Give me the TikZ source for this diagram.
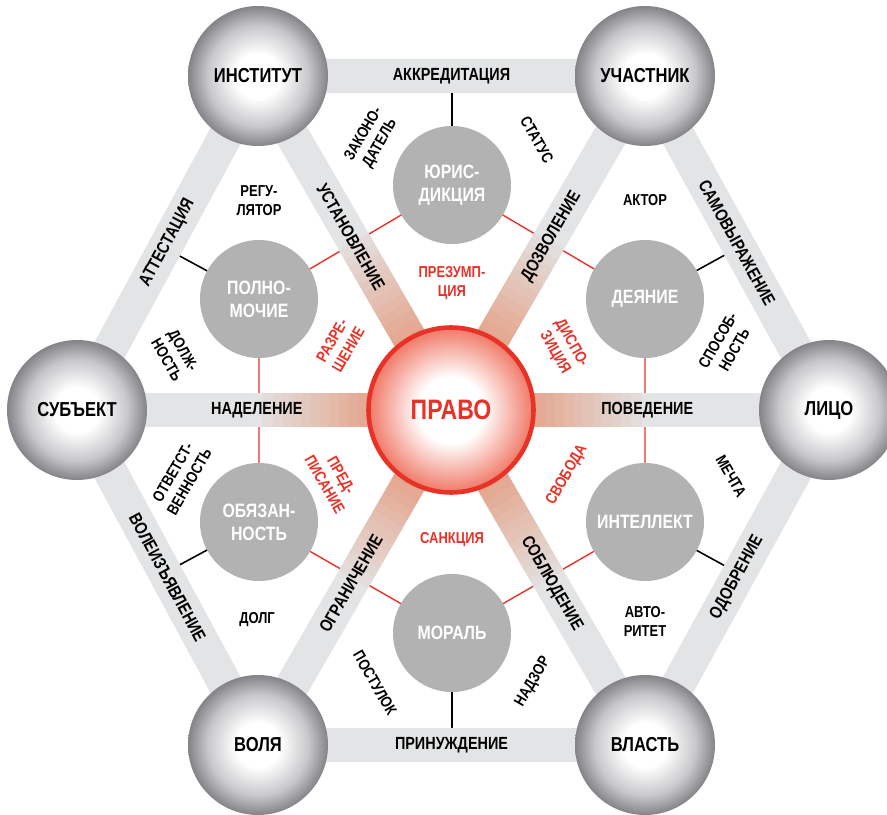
\documentclass[tikz,border=0pt]{standalone}
\usepackage{fontspec}
\newfontfamily\cond{Liberation Sans}[FakeStretch=0.82]
\usetikzlibrary{calc}

\definecolor{bandgray}{RGB}{227,228,229}
\definecolor{innergray}{RGB}{178,178,178}
\definecolor{rim}{RGB}{132,132,136}
\definecolor{midball}{RGB}{200,200,203}
\definecolor{pravored}{RGB}{232,50,40}
\definecolor{pravorim}{RGB}{240,120,102}
\definecolor{rosy}{RGB}{228,165,140}

\pgfdeclareradialshading{sphere}{\pgfpoint{0bp}{0bp}}{color(0bp)=(white); color(8bp)=(white); color(18bp)=(midball); color(25bp)=(rim); color(50bp)=(rim)}
\pgfdeclareradialshading{pravoshade}{\pgfpoint{0bp}{0bp}}{color(0bp)=(white); color(10bp)=(white); color(25bp)=(pravorim); color(50bp)=(pravorim)}

\pgfdeclarelayer{bottom}
\pgfdeclarelayer{background}
\pgfsetlayers{bottom,background,main}

\begin{document}
\begin{tikzpicture}[
  ball/.style={circle, inner sep=0pt, minimum size=2.8cm, shade, shading=sphere,
    font=\cond\bfseries\fontsize{11.5}{13}\selectfont},
  core/.style={circle, inner sep=0pt, minimum size=3.3cm, draw=pravored, line width=2.6pt,
    shade, shading=pravoshade, text=pravored, font=\cond\bfseries\fontsize{16}{18}\selectfont},
  disc/.style={circle, inner sep=0pt, minimum size=2.36cm, fill=innergray, text=white, align=center,
    font=\cond\bfseries\fontsize{11}{13}\selectfont},
  band/.style={line width=0.68cm, draw=bandgray},
  bandtxt/.style={font=\cond\bfseries\fontsize{10}{11}\selectfont, sloped},
  tag/.style={font=\cond\bfseries\fontsize{9}{10.8}\selectfont, align=center},
  rtag/.style={tag, text=pravored},
  tie/.style={line width=0.9pt},
  link/.style={line width=0.8pt, pravored},
]
  \useasboundingbox (0,0) rectangle (17.74,16.30);

  \node[core] (pravo) at (9.02,8.10) {ПРАВО};
  \node[ball] (inst)  at (5.16,14.78) {ИНСТИТУТ};
  \node[ball] (uch)   at (12.90,14.78) {УЧАСТНИК};
  \node[ball] (subj)  at (1.54,8.10) {СУБЪЕКТ};
  \node[ball] (lico)  at (16.58,8.10) {ЛИЦО};
  \node[ball] (volya) at (5.16,1.40) {ВОЛЯ};
  \node[ball] (vlast) at (12.90,1.40) {ВЛАСТЬ};

  \node[disc] (jur)   at (9.04,12.60) {ЮРИС-\\ДИКЦИЯ};
  \node[disc] (poln)  at (5.18,10.32) {ПОЛНО-\\МОЧИЕ};
  \node[disc] (deya)  at (12.90,10.32) {ДЕЯНИЕ};
  \node[disc] (obyaz) at (5.18,5.86) {ОБЯЗАН-\\НОСТЬ};
  \node[disc] (intel) at (12.90,5.86) {ИНТЕЛЛЕКТ};
  \node[disc] (moral) at (9.04,3.64) {МОРАЛЬ};

  \begin{pgfonlayer}{bottom}
    \draw[tie] (jur.center) -- ($(inst)!(jur)!(uch)$);
    \draw[tie] (poln.center) -- ($(inst)!(poln)!(subj)$);
    \draw[tie] (deya.center) -- ($(uch)!(deya)!(lico)$);
    \draw[tie] (obyaz.center) -- ($(subj)!(obyaz)!(volya)$);
    \draw[tie] (intel.center) -- ($(lico)!(intel)!(vlast)$);
    \draw[tie] (moral.center) -- ($(volya)!(moral)!(vlast)$);
    \draw[link] (jur.center) -- (poln.center) -- (obyaz.center) -- (moral.center)
      -- (intel.center) -- (deya.center) -- cycle;
  \end{pgfonlayer}

  \begin{pgfonlayer}{background}
    \draw[band] (inst.center)
      -- node[bandtxt] {АККРЕДИТАЦИЯ} (uch.center)
      -- node[bandtxt] {САМОВЫРАЖЕНИЕ} (lico.center)
      -- node[bandtxt] {ОДОБРЕНИЕ} (vlast.center)
      -- node[bandtxt] {ПРИНУЖДЕНИЕ} (volya.center)
      -- node[bandtxt] {ВОЛЕИЗЪЯВЛЕНИЕ} (subj.center)
      -- node[bandtxt] {АТТЕСТАЦИЯ} (inst.center) -- cycle;
    \foreach \s in {inst,uch,lico,vlast,volya,subj}{
      \draw[band] (pravo.center) -- (\s.center);
      \foreach \k [evaluate=\k as \p using int(100-8*\k),
                   evaluate=\k as \ta using 0.2+0.025*\k,
                   evaluate=\k as \tb using 0.23+0.025*\k] in {0,...,11}
        \draw[band, draw=rosy!\p!bandgray] ($(pravo)!\ta!(\s)$) -- ($(pravo)!\tb!(\s)$);
    }
    \path (pravo) -- node[bandtxt] {УСТАНОВЛЕНИЕ} (inst);
    \path (pravo) -- node[bandtxt] {ДОЗВОЛЕНИЕ} (uch);
    \path (pravo) -- node[bandtxt] {НАДЕЛЕНИЕ} (subj);
    \path (pravo) -- node[bandtxt] {ПОВЕДЕНИЕ} (lico);
    \path (pravo) -- node[bandtxt] {ОГРАНИЧЕНИЕ} (volya);
    \path (pravo) -- node[bandtxt] {СОБЛЮДЕНИЕ} (vlast);
  \end{pgfonlayer}

  \node[tag, rotate=60]  (zakon)  at (7.44,13.52) {ЗАКОНО-\\ДАТЕЛЬ};
  \node[tag, rotate=-60] (status) at (10.74,13.50) {СТАТУС};
  \node[tag]             (regul)  at (5.18,12.28) {РЕГУ-\\ЛЯТОР};
  \node[tag]             (aktor)  at (12.90,12.30) {АКТОР};
  \node[tag, rotate=-60] (dolzh)  at (3.50,9.20) {ДОЛЖ-\\НОСТЬ};
  \node[tag, rotate=60]  (sposob) at (14.52,9.40) {СПОСОБ-\\НОСТЬ};
  \node[tag, rotate=60]  (otvet)  at (3.62,6.76) {ОТВЕТСТ-\\ВЕННОСТЬ};
  \node[tag, rotate=-60] (mechta) at (14.62,6.78) {МЕЧТА};
  \node[tag]             (dolg)   at (5.14,3.90) {ДОЛГ};
  \node[tag]             (avtor)  at (12.90,3.88) {АВТО-\\РИТЕТ};
  \node[tag, rotate=-60] (postul) at (7.50,2.64) {ПОСТУЛОК};
  \node[tag, rotate=60]  (nadzor) at (10.66,2.66) {НАДЗОР};

  \node[rtag]            (prezum) at (9.04,10.64) {ПРЕЗУМП-\\ЦИЯ};
  \node[rtag, rotate=60] (razr)   at (6.80,9.40) {РАЗРЕ-\\ШЕНИЕ};
  \node[rtag, rotate=-60](dispoz) at (11.26,9.34) {ДИСПО-\\ЗИЦИЯ};
  \node[rtag, rotate=-60](predp)  at (6.66,6.70) {ПРЕД-\\ПИСАНИЕ};
  \node[rtag, rotate=60] (svob)   at (11.34,6.80) {СВОБОДА};
  \node[rtag]            (sankc)  at (9.04,5.50) {САНКЦИЯ};
\end{tikzpicture}
\end{document}
